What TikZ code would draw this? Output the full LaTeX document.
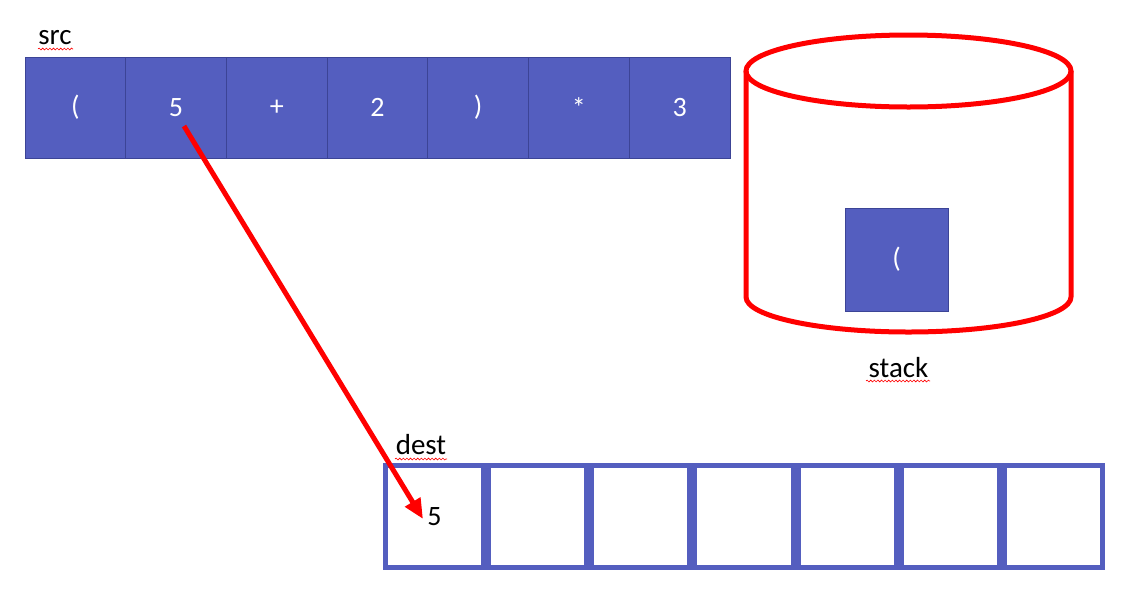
\documentclass[tikz,border=0pt]{standalone}
\usepackage{fontspec}
\setmainfont{Carlito}
\usetikzlibrary{arrows.meta,decorations.pathmorphing}
\definecolor{cellblue}{RGB}{84,94,191}
\definecolor{celledge}{RGB}{60,68,150}
\begin{document}
\begin{tikzpicture}[x=1pt,y=-1pt,
  txt/.style={font=\fontsize{28}{33}\selectfont},
  srccell/.style={txt,draw=celledge,line width=0.8pt,fill=cellblue,text=white,
    minimum width=100.7pt,minimum height=101pt,inner sep=0pt,outer sep=0pt},
  destcell/.style={txt,draw=cellblue,line width=5pt,fill=white,text=black,
    minimum width=98.1pt,minimum height=102pt,inner sep=0pt,outer sep=0pt},
  lab/.style={font=\fontsize{29}{34}\selectfont,text=black,anchor=base,inner sep=0pt},
  spell/.style={red,line width=0.6pt,decorate,decoration={snake,amplitude=0.9pt,segment length=3.6pt}},
  redline/.style={red,line width=5pt}]
\fill[white] (0,0) rectangle (1131,611);
\useasboundingbox (0,0) rectangle (1131,611);
% src array
\node[srccell] (s1) at (75.36,107.5) {(};
\node[srccell] (s2) at (176.07,107.5) {5};
\node[srccell] (s3) at (276.79,107.5) {+};
\node[srccell] (s4) at (377.5,107.5) {2};
\node[srccell] (s5) at (478.21,107.5) {)};
\node[srccell] (s6) at (578.93,107.5) {*};
\node[srccell] (s7) at (679.64,107.5) {3};
\node[lab] (srclab) at (55,44) {src};
\draw[spell] (38,49) -- (73,49);
% stack cylinder
\draw[redline] (908.5,71) ellipse [x radius=162.5, y radius=36];
\draw[redline,line join=round] (746,71) -- (746,297)
  .. controls (746,316.3) and (818.75,332) .. (908.5,332)
  .. controls (998.25,332) and (1071,316.3) .. (1071,297) -- (1071,71);
\node[srccell,minimum width=103pt,minimum height=103pt] (st1) at (896.5,259.5) {(};
\node[lab] (stacklab) at (898.5,377) {stack};
\draw[spell] (866,381) -- (930,381);
% dest array
\node[destcell] (d1) at (434.57,516.5) {5};
\node[destcell] (d2) at (537.71,516.5) {};
\node[destcell] (d3) at (640.86,516.5) {};
\node[destcell] (d4) at (744,516.5) {};
\node[destcell] (d5) at (847.14,516.5) {};
\node[destcell] (d6) at (950.29,516.5) {};
\node[destcell] (d7) at (1053.43,516.5) {};
\node[lab] (destlab) at (421,454) {dest};
\draw[spell] (395,459) -- (447,459);
% arrow
\coordinate (arrS) at (184,126);
\coordinate (arrE) at (423,519);
\draw[redline,-{Triangle[length=20pt,width=17pt]}] (arrS) -- (arrE);
\end{tikzpicture}
\end{document}
